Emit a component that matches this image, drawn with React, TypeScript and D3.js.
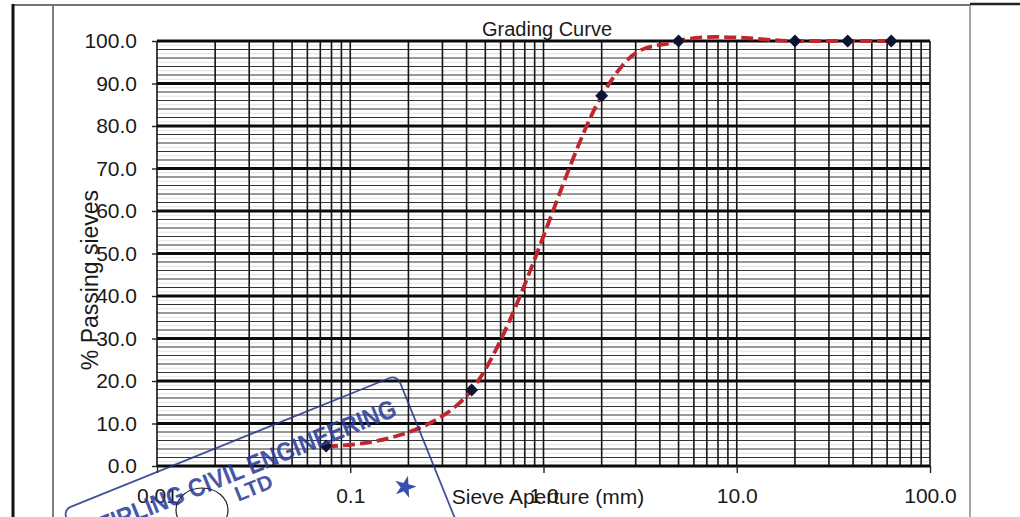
import { useEffect, useRef } from 'react';
import * as d3 from 'd3';

// sieve analysis results
const sieveSizes = [0.075, 0.425, 2.0, 5.0, 20.0, 37.5, 63.0];
const percentPassing = [4.7, 17.9, 87.1, 100, 100, 100, 100];

// axis ticks
const yTickValues = [0, 10, 20, 30, 40, 50, 60, 70, 80, 90, 100];
const xTickValues = [0.01, 0.1, 1, 10, 100];
const xTickLabels = ['0.01', '0.1', '1.0', '10.0', '100.0'];

const chartTitle = 'Grading Curve';
const xTitle = 'Sieve Aperture (mm)';
const yTitle = '% Passing sieves';
const stampLines = ['STIRLING CIVIL ENGINEERING', 'LTD'];

const W = 1020;
const H = 517;
const plot = { left: 157, right: 930, top: 41, bottom: 466 };
const FONT = '"Liberation Sans", Arial, sans-serif';

const GradingChart = () => {
    const svgRef = useRef<SVGSVGElement>(null);

    useEffect(() => {
        if (!svgRef.current) return;
        const svg = d3.select(svgRef.current);
        svg.selectAll('*').remove();

        const x = d3.scaleLog().domain([0.01, 100]).range([plot.left, plot.right]);
        const y = d3.scaleLinear().domain([0, 100]).range([plot.bottom, plot.top]);

        svg.append('rect').attr('width', W).attr('height', H).attr('fill', '#fff');

        // page frame from the scanned sheet
        const frame = svg.append('g').attr('fill', 'none');
        frame.append('line').attr('x1', 13).attr('x2', 970).attr('y1', 5).attr('y2', 5)
            .attr('stroke', '#444').attr('stroke-width', 1.5);
        frame.append('line').attr('x1', 970).attr('x2', W).attr('y1', 4).attr('y2', 4)
            .attr('stroke', '#222').attr('stroke-width', 2.5);
        frame.append('line').attr('x1', 13).attr('x2', 13).attr('y1', 4).attr('y2', H)
            .attr('stroke', '#111').attr('stroke-width', 3);
        frame.append('line').attr('x1', 53).attr('x2', 53).attr('y1', 6).attr('y2', H)
            .attr('stroke', '#555').attr('stroke-width', 1.5);
        frame.append('line').attr('x1', 970).attr('x2', 970).attr('y1', 5).attr('y2', H)
            .attr('stroke', '#888').attr('stroke-width', 1.5);

        // horizontal grid
        const grid = svg.append('g');
        const faint = d3.range(1, 100, 2);
        const minor = d3.range(2, 100, 2).filter(v => v % 10 !== 0);
        grid.selectAll('.hfaint').data(faint).enter().append('line')
            .attr('x1', plot.left).attr('x2', plot.right)
            .attr('y1', d => y(d)).attr('y2', d => y(d))
            .attr('stroke', '#d4d4d4').attr('stroke-width', 0.7);
        grid.selectAll('.hminor').data(minor).enter().append('line')
            .attr('x1', plot.left).attr('x2', plot.right)
            .attr('y1', d => y(d)).attr('y2', d => y(d))
            .attr('stroke', '#333').attr('stroke-width', 1.2);

        // vertical grid (log minors)
        const verticals: number[] = [];
        [0.01, 0.1, 1, 10].forEach(dec => {
            for (let m = 1; m <= 9; m++) verticals.push(dec * m);
        });
        verticals.push(100);
        grid.selectAll('.v').data(verticals).enter().append('line')
            .attr('x1', d => x(d)).attr('x2', d => x(d))
            .attr('y1', plot.top).attr('y2', plot.bottom)
            .attr('stroke', '#151515').attr('stroke-width', 1.6);

        grid.selectAll('.hmajor').data(yTickValues).enter().append('line')
            .attr('x1', plot.left).attr('x2', plot.right)
            .attr('y1', d => y(d)).attr('y2', d => y(d))
            .attr('stroke', '#0a0a0a').attr('stroke-width', 3);

        // axes
        const yAxis = svg.append('g')
            .attr('transform', `translate(${plot.left},0)`)
            .call(d3.axisLeft(y).tickValues(yTickValues).tickSize(5).tickPadding(15)
                .tickFormat(d => (d as number).toFixed(1)));
        const xAxis = svg.append('g')
            .attr('transform', `translate(0,${plot.bottom})`)
            .call(d3.axisBottom(x).tickValues(xTickValues).tickSize(7).tickPadding(15)
                .tickFormat((_, i) => xTickLabels[i]));
        [yAxis, xAxis].forEach(ax => {
            ax.select('.domain').remove();
            ax.selectAll('line').attr('stroke', '#222').attr('stroke-width', 1.4);
            ax.selectAll('text').attr('fill', '#1a1a1a')
                .style('font-family', FONT).style('font-size', '21px');
        });

        // grading curve
        const pts = sieveSizes.map((s, i) => ({ size: s, pass: percentPassing[i] }));
        const line = d3.line<{ size: number; pass: number }>()
            .x(d => x(d.size))
            .y(d => y(d.pass))
            .curve(d3.curveCardinal.tension(0));
        svg.append('path')
            .datum(pts)
            .attr('fill', 'none')
            .attr('stroke', '#c1262c')
            .attr('stroke-width', 3.8)
            .attr('stroke-dasharray', '12,5')
            .attr('d', line);

        svg.selectAll('.pt').data(pts).enter().append('path')
            .attr('transform', d => `translate(${x(d.size)},${y(d.pass)}) rotate(45)`)
            .attr('d', d3.symbol().type(d3.symbolSquare).size(84)())
            .attr('fill', '#0d1433');

        // titles
        svg.append('text').attr('x', 547).attr('y', 36).attr('text-anchor', 'middle')
            .style('font-family', FONT).style('font-size', '20px').attr('fill', '#1a1a1a')
            .text(chartTitle);
        svg.append('text').attr('x', 548).attr('y', 504).attr('text-anchor', 'middle')
            .style('font-family', FONT).style('font-size', '21px').attr('fill', '#1a1a1a')
            .text(xTitle);
        svg.append('text').attr('transform', 'translate(98,280) rotate(-90)')
            .attr('text-anchor', 'middle')
            .style('font-family', FONT).style('font-size', '23px').attr('fill', '#1a1a1a')
            .text(yTitle);

        // company stamp over the scan
        const stamp = svg.append('g')
            .attr('transform', 'translate(397,375) rotate(-22)')
            .attr('opacity', 0.85);
        stamp.append('rect').attr('x', -360).attr('y', 0).attr('width', 360).attr('height', 170)
            .attr('rx', 8).attr('fill', 'none').attr('stroke', '#27348b').attr('stroke-width', 1.8);
        stamp.append('text').attr('x', -348).attr('y', 38)
            .attr('textLength', 334).attr('lengthAdjust', 'spacingAndGlyphs')
            .style('font-family', FONT).style('font-size', '26px').style('font-weight', 600)
            .attr('fill', '#2a3a9a')
            .text(stampLines[0]);
        stamp.append('text').attr('x', -175).attr('y', 58).attr('text-anchor', 'middle')
            .style('font-family', FONT).style('font-size', '21px').style('font-weight', 600)
            .attr('fill', '#2a3a9a')
            .text(stampLines[1]);

        svg.append('ellipse').attr('cx', 202).attr('cy', 510).attr('rx', 26).attr('ry', 22)
            .attr('fill', 'none').attr('stroke', '#222').attr('stroke-width', 1.2);
        svg.append('path')
            .attr('transform', 'translate(405,487) rotate(15)')
            .attr('d', d3.symbol().type(d3.symbolStar).size(150)())
            .attr('fill', '#3a4db0');
    }, []);

    return (
        <svg ref={svgRef} width={W} height={H}
            style={{ position: 'absolute', left: 0, top: 0, display: 'block' }} />
    );
};

export default function App() {
    return <GradingChart />;
}
